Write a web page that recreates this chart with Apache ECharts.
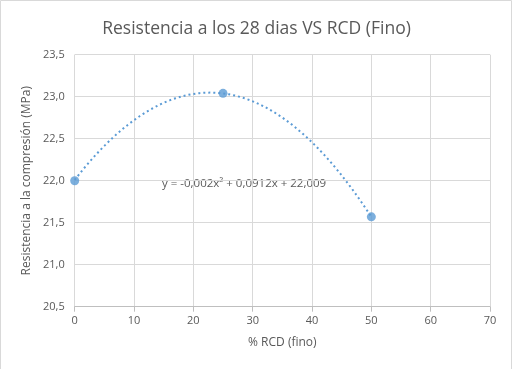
<!DOCTYPE html>
<html><head><meta charset="utf-8">
<script src="https://cdn.jsdelivr.net/npm/echarts@6/dist/echarts.min.js"></script>
<style>html,body{margin:0;padding:0;background:#fff}#c{width:513px;height:369px}</style>
</head><body><div id="c"></div>
<script>
const xValues = [0, 25, 50];
const yValues = [22.0, 23.04, 21.57];
const trendCoeffs = [-0.002, 0.0912, 22.009]; // a, b, c from equation shown
const trendRange = [0, 50];
const xTicks = [0, 10, 20, 30, 40, 50, 60, 70];
const yTicks = [20.5, 21.0, 21.5, 22.0, 22.5, 23.0, 23.5];
const titleText = 'Resistencia a los 28 dias VS RCD (Fino)';
const xName = '% RCD (fino)';
const yName = 'Resistencia a la compresión (MPa)';
const eqText = 'y = -0,002x² + 0,0912x + 22,009';

const trend = [];
for (let x = trendRange[0]; x <= trendRange[1]; x += 0.5) {
  trend.push([x, trendCoeffs[0]*x*x + trendCoeffs[1]*x + trendCoeffs[2]]);
}
const FONT = '"Open Sans", sans-serif';
const chart = echarts.init(document.getElementById('c'));
chart.setOption({
  animation: false,
  title: { text: titleText, left: 'center', top: 15,
    textStyle: { fontFamily: FONT, fontSize: 17.5, fontWeight: 'normal', color: '#595959' } },
  grid: { left: 74.7, right: 23, top: 54.7, bottom: 62.3 },
  xAxis: { type: 'value', min: xTicks[0], max: xTicks[xTicks.length-1], interval: 10,
    name: xName, nameLocation: 'middle', nameGap: 30,
    nameTextStyle: { fontFamily: FONT, fontSize: 12, color: '#595959' },
    axisLine: { lineStyle: { color: '#bfbfbf' } },
    axisTick: { show: true, length: 5, lineStyle: { color: '#bfbfbf' } },
    axisLabel: { fontFamily: FONT, fontSize: 11, color: '#595959', margin: 9 },
    splitLine: { show: true, lineStyle: { color: '#d9d9d9', width: 1 } } },
  yAxis: { type: 'value', min: yTicks[0], max: yTicks[yTicks.length-1], interval: 0.5,
    name: yName, nameLocation: 'middle', nameGap: 40,
    nameTextStyle: { fontFamily: FONT, fontSize: 12, color: '#595959' },
    axisLine: { show: false }, axisTick: { show: false },
    axisLabel: { fontFamily: FONT, fontSize: 11, color: '#595959', margin: 10,
      formatter: v => v.toFixed(1).replace('.', ',') },
    splitLine: { show: true, lineStyle: { color: '#d9d9d9', width: 1 } } },
  series: [
    { type: 'line', data: trend, showSymbol: false, symbol: 'none', smooth: false,
      lineStyle: { color: '#5B9BD5', width: 2, type: [2, 3] }, z: 2 },
    { type: 'scatter', data: xValues.map((x, i) => [x, yValues[i]]),
      symbolSize: 9, itemStyle: { color: '#5B9BD5' }, z: 3 }
  ],
  graphic: [
    { type: 'rect', shape: { x: 0.5, y: 0.5, width: 511, height: 370 },
      style: { fill: 'none', stroke: '#d9d9d9', lineWidth: 1 }, silent: true },
    { type: 'text', left: 162, top: 178,
      style: { text: eqText, fontFamily: FONT, fontSize: 11.5, fill: '#595959' } }
  ]
});
</script></body></html>
